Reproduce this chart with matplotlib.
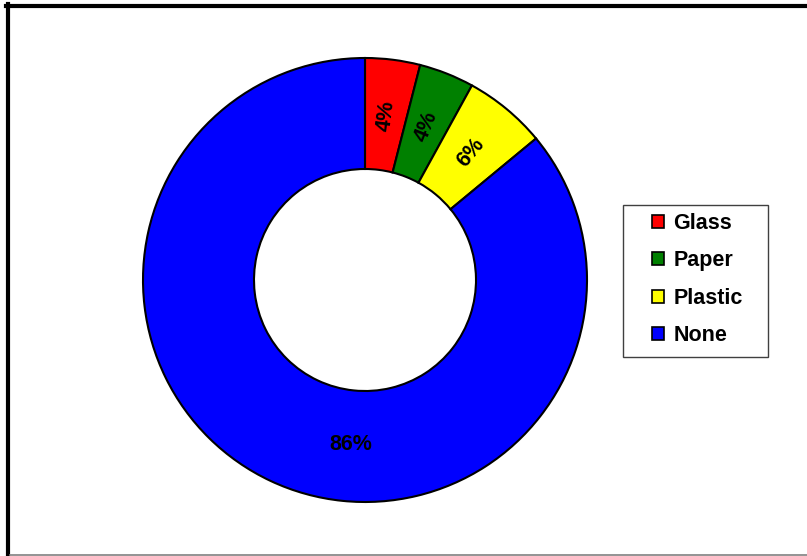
#!/bin/env python3

import numpy as np
import matplotlib
matplotlib.use('Agg')
import matplotlib.pyplot as plt
from matplotlib.lines import Line2D
from matplotlib.patches import Patch, Rectangle

categories = ['Glass', 'Paper', 'Plastic', 'None']
shares = [4, 4, 6, 86]
colors = ['#ff0000', '#008000', '#ffff00', '#0000ff']


def main():
    plt.rcParams['font.family'] = ['Liberation Sans', 'DejaVu Sans']
    W, H = 807, 556
    fig = plt.figure(figsize=(W / 100, H / 100), dpi=100)

    # donut centred at (365, 280) px, outer radius 222 px
    cx, cy, r = 365, 280, 222
    ax = fig.add_axes([(cx - r) / W, (H - cy - r) / H, 2 * r / W, 2 * r / H])
    wedges, _ = ax.pie(shares, colors=colors, startangle=90, counterclock=False,
                       radius=1, wedgeprops=dict(width=0.5, edgecolor='black', linewidth=1.5))
    ax.set_xlim(-1, 1)
    ax.set_ylim(-1, 1)
    ax.axis('off')

    # percent labels in the middle of the ring, rotated along the radius
    total = sum(shares)
    start = 0.0
    for v in shares:
        mid = 90 - 360 * (start + v / 2) / total
        start += v
        if -90 <= mid <= 90:
            rot = mid
        else:
            # big slice: flat label, pulled towards the bottom of the ring
            rot, mid = 0, -95
        x = 0.745 * np.cos(np.radians(mid))
        y = 0.745 * np.sin(np.radians(mid))
        ax.text(x, y, f'{v}%', rotation=rot, ha='center', va='center',
                fontsize=15.5, fontweight='bold', rotation_mode='anchor')

    # legend: separate box, frameless legend inside
    fig.add_artist(Rectangle((623 / W, 1 - 357 / H), 145 / W, 152 / H,
                             transform=fig.transFigure, facecolor='white',
                             edgecolor='#404040', linewidth=1.0))
    handles = [Patch(facecolor=c, edgecolor='black', linewidth=1.2) for c in colors]
    fig.legend(handles, categories, loc='upper left',
               bbox_to_anchor=(652 / W, 1 - 213 / H), bbox_transform=fig.transFigure,
               prop=dict(size=15.5, weight='bold'), frameon=False,
               handlelength=0.55, handleheight=0.55, handletextpad=0.45,
               labelspacing=0.76, borderpad=0, borderaxespad=0)

    # chart area border
    fig.add_artist(Line2D([6 / W, 1], [1 - 5.5 / H, 1 - 5.5 / H], color='black',
                          linewidth=3, transform=fig.transFigure))
    fig.add_artist(Line2D([8 / W, 8 / W], [0, 1 - 4 / H], color='black',
                          linewidth=3, transform=fig.transFigure))
    fig.add_artist(Line2D([10 / W, 1], [1.2 / H, 1.2 / H], color='#808080',
                          linewidth=1.2, transform=fig.transFigure))

    fig.savefig('out.png', dpi=100)


if __name__ == '__main__':
    main()
